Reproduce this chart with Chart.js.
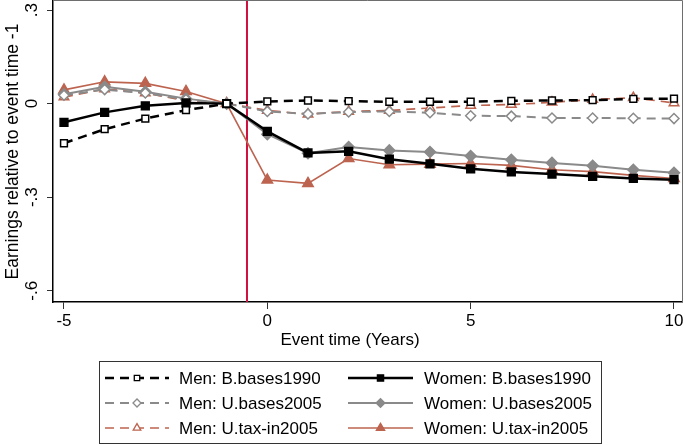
<!DOCTYPE html>
<html>
<head>
<meta charset="utf-8">
<script src="https://cdn.jsdelivr.net/npm/chart.js@4/dist/chart.umd.min.js"></script>
<style>
  html, body { margin: 0; padding: 0; background: #fff; }
  #wrap { width: 685px; height: 445px; }
</style>
</head>
<body>
<div id="wrap"><canvas id="c" width="685" height="445"></canvas></div>
<script>
const eventTime = [-5, -4, -3, -2, -1, 0, 1, 2, 3, 4, 5, 6, 7, 8, 9, 10]

const menBBases1990   = [-0.127, -0.082, -0.048, -0.021, 0, 0.007, 0.010, 0.008, 0.006, 0.006, 0.006, 0.009, 0.010, 0.011, 0.015, 0.016]
const womenBBases1990 = [-0.060, -0.028, -0.007, 0.002, 0, -0.089, -0.158, -0.153, -0.178, -0.193, -0.209, -0.219, -0.226, -0.233, -0.240, -0.244]
const menUBases2005   = [0.027, 0.045, 0.034, 0.013, 0, -0.025, -0.033, -0.027, -0.025, -0.029, -0.039, -0.040, -0.046, -0.046, -0.047, -0.048]
const womenUBases2005 = [0.030, 0.054, 0.038, 0.016, 0, -0.098, -0.159, -0.139, -0.150, -0.155, -0.168, -0.180, -0.190, -0.199, -0.212, -0.222]
const menUTax2005     = [0.021, 0.047, 0.034, 0.009, 0, -0.022, -0.034, -0.025, -0.022, -0.014, -0.006, -0.003, 0.004, 0.013, 0.019, 0.002]
const womenUTax2005   = [0.044, 0.070, 0.065, 0.039, 0, -0.245, -0.256, -0.176, -0.196, -0.194, -0.192, -0.198, -0.212, -0.218, -0.230, -0.240]

const xTicks = [-5, 0, 5, 10]
const yTicks = [0.3, 0, -0.3, -0.6]
const yTickLabels = ['.3', '0', '-.3', '-.6']
const xRange = [-5.27, 10.197]
const yRange = [-0.636, 0.329]
const eventLineX = -0.5

const FONT = '"Liberation Sans", Arial, Helvetica, sans-serif'
const BLACK = '#000000'
const GRAY = '#8a8a8a'
const RED = '#bd6450'

const series = [
  { label: 'Men: B.bases1990', data: menBBases1990, color: BLACK, dash: [9, 6], width: 2.5, style: 'rect', radius: 4.8, hollow: true },
  { label: 'Women: B.bases1990', data: womenBBases1990, color: BLACK, dash: [], width: 2.5, style: 'rect', radius: 5.5, hollow: false },
  { label: 'Men: U.bases2005', data: menUBases2005, color: GRAY, dash: [9, 6], width: 2, style: 'rectRot', radius: 5, hollow: true },
  { label: 'Women: U.bases2005', data: womenUBases2005, color: GRAY, dash: [], width: 2, style: 'rectRot', radius: 5.5, hollow: false },
  { label: 'Men: U.tax-in2005', data: menUTax2005, color: RED, dash: [9, 6], width: 1.7, style: 'triangle', radius: 5.5, hollow: true },
  { label: 'Women: U.tax-in2005', data: womenUTax2005, color: RED, dash: [], width: 1.7, style: 'triangle', radius: 6, hollow: false },
]

function buildDatasets() {
  const sets = series.map(s => ({
    label: s.label,
    data: eventTime.map((t, i) => ({ x: t, y: s.data[i] })),
    borderColor: s.color,
    borderWidth: s.width,
    borderDash: s.dash,
    pointStyle: s.style,
    pointRadius: s.radius,
    pointBorderWidth: 1.5,
    pointBorderColor: s.color,
    pointBackgroundColor: s.hollow ? '#ffffff' : s.color,
    tension: 0,
    fill: false,
    order: 1,
  }))
  sets.push({
    label: 'event',
    data: [{ x: eventLineX, y: yRange[0] }, { x: eventLineX, y: yRange[1] }],
    borderColor: '#d0103f',
    borderWidth: 2,
    pointRadius: 0,
    fill: false,
    order: 10,
  })
  return sets
}

// draws rotated y labels, titles, frame and the boxed two-column legend
const stataDecor = {
  id: 'stataDecor',
  afterDraw(chart) {
    const { ctx, chartArea: a, scales } = chart
    ctx.save()

    ctx.strokeStyle = '#6e6e6e'
    ctx.lineWidth = 1
    ctx.beginPath()
    ctx.moveTo(a.left, a.top - 0.5)
    ctx.lineTo(a.right + 0.5, a.top - 0.5)
    ctx.lineTo(a.right + 0.5, a.bottom)
    ctx.stroke()

    ctx.fillStyle = '#000'
    ctx.font = '17px ' + FONT
    ctx.textAlign = 'center'
    ctx.textBaseline = 'middle'
    yTicks.forEach((v, i) => {
      const y = scales.y.getPixelForValue(v)
      ctx.save()
      ctx.translate(32, y)
      ctx.rotate(-Math.PI / 2)
      ctx.fillText(yTickLabels[i], 0, 0)
      ctx.restore()
    })

    ctx.save()
    ctx.translate(13, (a.top + a.bottom) / 2)
    ctx.rotate(-Math.PI / 2)
    ctx.font = '17.5px ' + FONT
    ctx.fillText('Earnings relative to event time -1', 0, 0)
    ctx.restore()

    ctx.fillText('Event time (Years)', 350, 340)

    // legend
    ctx.strokeStyle = '#333'
    ctx.lineWidth = 1
    ctx.setLineDash([])
    ctx.strokeRect(99.5, 361.5, 502, 82)

    const rows = [378, 403, 428]
    const cols = [{ x0: 105, x1: 169, text: 179 }, { x0: 348, x1: 413, text: 424 }]
    series.forEach((s, i) => {
      const col = cols[i % 2]
      const y = rows[Math.floor(i / 2)]
      ctx.strokeStyle = s.color
      ctx.lineWidth = s.width
      ctx.setLineDash(s.dash)
      ctx.beginPath()
      ctx.moveTo(col.x0, y)
      ctx.lineTo(col.x1, y)
      ctx.stroke()
      ctx.setLineDash([])
      ctx.fillStyle = s.hollow ? '#fff' : s.color
      ctx.strokeStyle = s.color
      ctx.lineWidth = 1.3
      Chart.helpers.drawPoint(ctx, { pointStyle: s.style, radius: s.radius * 0.8, borderWidth: 1.3, rotation: 0 }, (col.x0 + col.x1) / 2, y)
      ctx.fillStyle = '#000'
      ctx.textAlign = 'left'
      ctx.font = '17px ' + FONT
      ctx.fillText(s.label, col.text, y + 1)
    })

    ctx.restore()
  },
}

new Chart(document.getElementById('c').getContext('2d'), {
  type: 'line',
  data: { datasets: buildDatasets() },
  options: {
    responsive: false,
    animation: false,
    devicePixelRatio: 1,
    layout: { autoPadding: false, padding: { top: 1, right: 3, left: 0, bottom: 0 } },
    plugins: { legend: { display: false }, tooltip: { enabled: false } },
    scales: {
      x: {
        type: 'linear',
        min: xRange[0],
        max: xRange[1],
        afterBuildTicks: scale => { scale.ticks = xTicks.map(v => ({ value: v })) },
        afterFit: scale => {
          scale.height = 143
          scale.paddingLeft = 0
          scale.paddingRight = 0
        },
        grid: { drawOnChartArea: false, tickLength: 7, color: '#333' },
        border: { color: '#000', width: 1.5 },
        ticks: { font: { size: 17, family: FONT }, color: '#000', padding: 2, maxRotation: 0 },
      },
      y: {
        type: 'linear',
        min: yRange[0],
        max: yRange[1],
        afterBuildTicks: scale => { scale.ticks = yTicks.map(v => ({ value: v })) },
        afterFit: scale => {
          scale.width = 53
          scale.paddingTop = 0
          scale.paddingBottom = 0
        },
        grid: { drawOnChartArea: false, tickLength: 6, color: '#333' },
        border: { color: '#000', width: 1.5 },
        ticks: { display: false },
      },
    },
  },
  plugins: [stataDecor],
})
</script>
</body>
</html>
